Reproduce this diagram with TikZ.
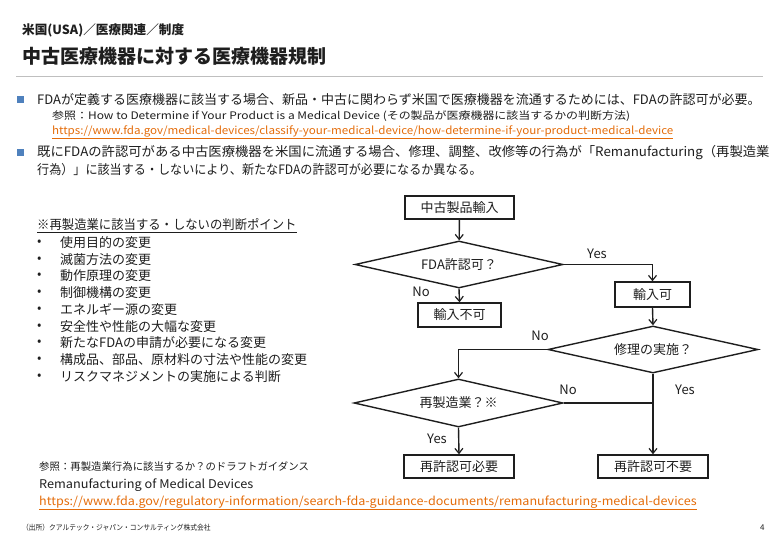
\documentclass[tikz,border=0pt]{standalone}
\usepackage{fontspec}
\usepackage{graphicx}
\setmainfont{Noto Sans CJK JP}
\usetikzlibrary{shapes.geometric,arrows.meta}
\definecolor{bulletblue}{RGB}{79,129,189}
\definecolor{urlorange}{RGB}{228,108,10}
\definecolor{rulegray}{RGB}{191,191,191}
\definecolor{ink}{RGB}{30,30,30}
\newcommand{\hsx}[2]{\scalebox{#1}[1]{#2}}
\tikzset{
  txt/.style={anchor=west,inner sep=0pt,text=ink},
  body/.style={txt,font=\fontsize{13}{15}\selectfont},
  small/.style={txt,font=\fontsize{10.4}{12}\selectfont},
  url/.style={txt,text=urlorange},
  sq/.style={fill=bulletblue,draw=none,minimum size=6.5pt,inner sep=0pt},
  procbox/.style={draw=ink,line width=1.4pt,inner sep=0pt,font=\fontsize{13}{15}\selectfont,text=ink},
  decide/.style={diamond,draw=ink,line width=1.4pt,inner sep=0pt,aspect=4.4,minimum width=208pt,minimum height=47pt,font=\fontsize{13}{15}\selectfont,text=ink},
  conn/.style={draw=ink,line width=1.4pt},
  arr/.style={conn,-{Straight Barb[length=5pt,width=8pt,line width=1.2pt]}},
  lab/.style={inner sep=0pt,font=\fontsize{13}{15}\selectfont,text=ink},
}
\begin{document}
\begin{tikzpicture}[x=1pt,y=-1pt]
\useasboundingbox (0,0) rectangle (780,540);
% header
\node[txt,font=\bfseries\fontsize{12.6}{15}\selectfont] (h1) at (22,30) {米国(USA)／医療関連／制度};
\node[txt,font=\bfseries\fontsize{19}{21}\selectfont] (h2) at (22,56) {中古医療機器に対する医療機器規制};
\coordinate (rl) at (16,77);
\coordinate (rr) at (763,77);
\draw[rulegray,line width=1pt] (rl) -- (rr);
% bullets
\node[sq] (b1) at (20.5,99.5) {};
\node[body] (t1) at (37,100) {FDAが定義する医療機器に該当する場合、新品・中古に関わらず米国で医療機器を流通するためには、FDAの許認可が必要。};
\node[small] (t1r) at (52,116) {\hsx{1.15}{参照：How to Determine if Your Product is a Medical Device (その製品が医療機器に該当するかの判断方法)}};
\node[url,font=\fontsize{10.8}{12}\selectfont] (u1) at (52,132) {\hsx{1.074}{\underline{https://www.fda.gov/medical-devices/classify-your-medical-device/how-determine-if-your-product-medical-device}}};
\node[sq] (b2) at (20.5,152.5) {};
\node[body] (t2) at (37,153) {\hsx{1.026}{既にFDAの許認可がある中古医療機器を米国に流通する場合、修理、調整、改修等の行為が「Remanufacturing（再製造業}};
\node[body] (t3) at (37,170) {\hsx{0.93}{行為）」に該当する・しないにより、新たなFDAの許認可が必要になるか異なる。}};
% list
\node[body] (lh) at (37,226) {\hsx{0.95}{\underline{※再製造業に該当する・しないの判断ポイント}}};
\foreach \y/\t [count=\i] in {243/使用目的の変更,260/滅菌方法の変更,276/動作原理の変更,293/制御機構の変更,310/エネルギー源の変更,327/安全性や性能の大幅な変更,343/新たなFDAの申請が必要になる変更,360/構成品、部品、原材料の寸法や性能の変更,377/リスクマネジメントの実施による判断}{
  \node[body] (ld\i) at (37,\y) {•};
  \node[body] (li\i) at (60,\y) {\t};
}
% flowchart
\node[procbox,minimum width=109pt,minimum height=23pt] (start) at (459.5,207.5) {中古製品輸入};
\node[decide] (fda) at (459,264.5) {FDA許認可？};
\node[procbox,minimum width=75pt,minimum height=25pt] (ok) at (652.5,294.5) {輸入可};
\node[procbox,minimum width=83pt,minimum height=24pt] (ng) at (459.5,315) {輸入不可};
\node[decide,minimum width=210pt] (repair) at (653,349.5) {修理の実施？};
\node[decide,minimum width=209pt,minimum height=48pt] (reman) at (458.5,403) {再製造業？※};
\node[procbox,minimum width=110pt,minimum height=23pt] (req) at (459,466.5) {再許認可必要};
\node[procbox,minimum width=110pt,minimum height=23pt] (notreq) at (653,466.5) {再許認可不要};
\coordinate (join) at (repair.south |- reman.east);
\draw[arr] (start) -- (fda);
\draw[arr] (fda.east) -| (ok.north);
\draw[arr] (fda.south) -- (ng.north);
\draw[arr] (ok.south) -- (repair.north);
\draw[arr] (repair.west) -| (reman.north);
\draw[arr] (repair.south) -- (notreq.north);
\draw[conn] (reman.east) -- (join);
\draw[arr] (reman.south) -- (req.north);
\node[lab] (lyes1) at (597,254) {Yes};
\node[lab] (lno1) at (421,292) {No};
\node[lab] (lno2) at (540,336) {No};
\node[lab] (lno3) at (568,390) {No};
\node[lab] (lyes2) at (685,390) {Yes};
\node[lab] (lyes3) at (437,439) {Yes};
% references
\node[small] (r2) at (39,467) {参照：再製造業行為に該当するか？のドラフトガイダンス};
\node[txt,font=\fontsize{12}{14}\selectfont] (r3) at (39,485) {\hsx{1.06}{Remanufacturing of Medical Devices}};
\node[url,font=\fontsize{11.8}{14}\selectfont] (u2) at (39,503) {\hsx{1.065}{\underline{https://www.fda.gov/regulatory-information/search-fda-guidance-documents/remanufacturing-medical-devices}}};
\node[txt,font=\fontsize{7.5}{9}\selectfont] (src) at (22,528) {\hsx{0.9}{（出所）クアルテック・ジャパン・コンサルティング株式会社}};
\node[txt,font=\fontsize{8}{9}\selectfont] (pg) at (760,528) {4};
\end{tikzpicture}
\end{document}
